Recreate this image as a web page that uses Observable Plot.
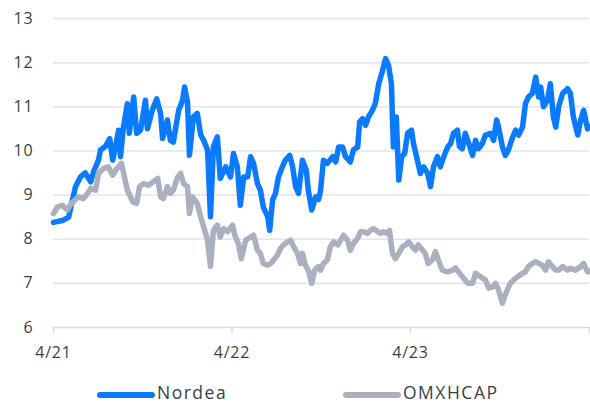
<!DOCTYPE html>
<html><head><meta charset="utf-8">
<script src="https://cdn.jsdelivr.net/npm/d3@7"></script>
<script src="https://cdn.jsdelivr.net/npm/@observablehq/plot@0.6"></script>
<style>
body{margin:0;background:#fff;font-family:"Open Sans",sans-serif;}
#wrap{position:relative;width:590px;height:404px;overflow:hidden;}
#chart{position:absolute;left:0;top:0;}
#chart svg text{letter-spacing:0.8px;}
.lt{position:absolute;top:383px;height:18px;line-height:18px;font-size:17.5px;letter-spacing:1.5px;color:#3b3f47;white-space:nowrap;}
.sw{position:absolute;top:392px;width:58px;height:5.5px;border-radius:3px;}
</style></head><body>
<div id="wrap"><div id="chart"></div>
<span class="sw" style="left:97px;background:#0a7bff"></span><span class="lt" style="left:157px">Nordea</span>
<span class="sw" style="left:343px;background:#aab0bf"></span><span class="lt" style="left:403px">OMXHCAP</span>
</div>
<script>
const seriesNames = ["Nordea", "OMXHCAP"];
const seriesColors = ["#0a7bff", "#aab0bf"];
const yTicks = [6, 7, 8, 9, 10, 11, 12, 13];
const xTickDates = ["2021-04-01", "2022-04-01", "2023-04-01", "2024-04-01"];
const xTickLabels = ["4/21", "4/22", "4/23", ""];

const nordeaDates = ["2021-04-01","2021-04-21","2021-05-02","2021-05-10","2021-05-16","2021-05-26","2021-06-05","2021-06-16","2021-06-22","2021-07-02","2021-07-06","2021-07-16","2021-07-25","2021-07-31","2021-08-06","2021-08-12","2021-08-16","2021-08-22","2021-08-30","2021-09-03","2021-09-12","2021-09-18","2021-09-26","2021-10-06","2021-10-10","2021-10-20","2021-10-29","2021-11-06","2021-11-10","2021-11-20","2021-11-26","2021-12-02","2021-12-13","2021-12-21","2021-12-25","2021-12-31","2022-01-04","2022-01-12","2022-01-20","2022-01-27","2022-02-02","2022-02-10","2022-02-16","2022-02-22","2022-03-02","2022-03-08","2022-03-19","2022-03-29","2022-04-04","2022-04-12","2022-04-18","2022-04-25","2022-05-03","2022-05-09","2022-05-15","2022-05-23","2022-05-29","2022-06-04","2022-06-13","2022-06-17","2022-06-23","2022-06-29","2022-07-05","2022-07-13","2022-07-19","2022-07-28","2022-08-03","2022-08-09","2022-08-15","2022-08-23","2022-08-31","2022-09-04","2022-09-11","2022-09-19","2022-09-25","2022-09-29","2022-10-05","2022-10-13","2022-10-24","2022-10-30","2022-11-05","2022-11-13","2022-11-19","2022-11-29","2022-12-05","2022-12-14","2022-12-18","2022-12-24","2022-12-30","2023-01-05","2023-01-13","2023-01-19","2023-01-26","2023-02-03","2023-02-09","2023-02-15","2023-02-21","2023-02-23","2023-02-25","2023-03-03","2023-03-08","2023-03-14","2023-03-20","2023-03-26","2023-04-03","2023-04-07","2023-04-15","2023-04-21","2023-04-28","2023-05-06","2023-05-12","2023-05-18","2023-05-26","2023-06-01","2023-06-08","2023-06-16","2023-06-22","2023-06-28","2023-07-06","2023-07-10","2023-07-16","2023-07-22","2023-07-29","2023-08-06","2023-08-12","2023-08-18","2023-08-26","2023-09-01","2023-09-12","2023-09-18","2023-09-24","2023-09-28","2023-10-06","2023-10-12","2023-10-18","2023-10-27","2023-11-02","2023-11-08","2023-11-16","2023-11-22","2023-11-28","2023-12-06","2023-12-13","2023-12-19","2023-12-23","2023-12-29","2024-01-06","2024-01-12","2024-01-18","2024-01-23","2024-01-29","2024-02-06","2024-02-16","2024-02-22","2024-02-28","2024-03-08","2024-03-14","2024-03-20","2024-03-28","2024-04-01"];
const nordeaValues = [8.38,8.43,8.5,8.9,9.19,9.41,9.5,9.3,9.53,9.79,10.02,10.1,10.28,9.79,10.1,10.47,9.87,10.54,11.07,10.4,11.22,10.4,10.47,11.15,10.5,10.92,11.18,10.85,10.28,10.7,10.24,10.2,10.92,11.15,11.45,11.1,9.9,10.77,10.85,10.36,10.24,10.02,8.51,10.1,10.32,9.38,9.64,9.41,9.94,9.64,8.77,9.41,9.41,9.87,9.72,9.26,9.11,8.73,8.51,8.2,8.89,9.04,9.41,9.64,9.79,9.9,9.64,9.19,9.04,9.79,9.56,9.11,8.66,8.96,8.9,9.1,9.79,9.72,9.87,9.75,10.09,10.09,9.87,9.75,10.02,10.09,10.66,10.73,10.58,10.77,10.92,11.07,11.52,11.83,12.09,11.94,11.52,10.77,10.09,10.77,9.34,9.87,9.94,10.4,10.47,10.17,9.79,9.49,9.64,9.49,9.19,9.64,9.87,9.64,9.87,10.09,10.17,10.4,10.47,10.1,10.05,10.4,10.17,9.9,10.24,10.05,10.17,10.36,10.4,10.24,10.7,10.54,10.09,9.9,10.02,10.32,10.47,10.36,10.54,11.07,11.22,11.3,11.67,11.22,11.45,11.0,11.15,11.52,10.77,10.54,11.0,11.3,11.41,11.3,10.77,10.36,10.7,10.92,10.5,10.55];

const omxDates = ["2021-04-01","2021-04-09","2021-04-19","2021-04-29","2021-05-05","2021-05-11","2021-05-22","2021-06-01","2021-06-10","2021-06-16","2021-06-26","2021-07-02","2021-07-12","2021-07-22","2021-07-31","2021-08-06","2021-08-12","2021-08-18","2021-08-24","2021-08-30","2021-09-10","2021-09-18","2021-09-24","2021-10-02","2021-10-12","2021-10-22","2021-10-31","2021-11-06","2021-11-12","2021-11-20","2021-11-26","2021-12-02","2021-12-11","2021-12-17","2021-12-23","2021-12-31","2022-01-04","2022-01-10","2022-01-20","2022-01-27","2022-02-02","2022-02-10","2022-02-16","2022-02-22","2022-03-02","2022-03-08","2022-03-15","2022-03-23","2022-04-02","2022-04-08","2022-04-14","2022-04-20","2022-04-29","2022-05-09","2022-05-15","2022-05-23","2022-05-29","2022-06-04","2022-06-13","2022-06-19","2022-06-25","2022-07-03","2022-07-09","2022-07-15","2022-07-24","2022-07-30","2022-08-05","2022-08-13","2022-08-19","2022-08-23","2022-08-29","2022-09-04","2022-09-11","2022-09-17","2022-09-25","2022-09-29","2022-10-05","2022-10-13","2022-10-19","2022-10-26","2022-11-03","2022-11-09","2022-11-15","2022-11-23","2022-11-29","2022-12-05","2022-12-14","2022-12-20","2022-12-26","2023-01-03","2023-01-09","2023-01-15","2023-01-24","2023-01-30","2023-02-05","2023-02-13","2023-02-17","2023-02-23","2023-03-01","2023-03-08","2023-03-16","2023-03-22","2023-03-28","2023-04-05","2023-04-11","2023-04-17","2023-04-26","2023-05-01","2023-05-07","2023-05-16","2023-05-22","2023-05-28","2023-06-05","2023-06-16","2023-06-26","2023-07-02","2023-07-08","2023-07-16","2023-07-27","2023-08-06","2023-08-12","2023-08-22","2023-09-01","2023-09-08","2023-09-16","2023-09-22","2023-09-28","2023-10-06","2023-10-10","2023-10-16","2023-10-22","2023-10-29","2023-11-06","2023-11-16","2023-11-22","2023-11-28","2023-12-06","2023-12-13","2023-12-19","2023-12-27","2024-01-02","2024-01-08","2024-01-16","2024-01-23","2024-01-29","2024-02-06","2024-02-16","2024-02-22","2024-03-03","2024-03-14","2024-03-20","2024-03-28","2024-04-01"];
const omxValues = [8.58,8.73,8.77,8.66,8.77,8.85,8.96,8.92,9.04,9.15,9.11,9.49,9.6,9.64,9.45,9.56,9.64,9.72,9.41,9.11,8.85,8.81,9.19,9.26,9.22,9.3,9.38,8.96,8.92,9.19,9.04,9.11,9.41,9.49,9.26,9.19,8.58,8.96,8.81,8.51,8.28,7.98,7.38,8.2,8.32,8.05,8.24,8.17,8.32,8.05,7.9,7.56,7.98,8.05,8.09,7.75,7.68,7.45,7.41,7.45,7.53,7.64,7.79,7.87,7.94,7.98,7.83,7.68,7.45,7.68,7.41,7.3,7.0,7.3,7.38,7.3,7.45,7.53,7.83,7.94,7.87,7.98,8.09,7.98,7.75,7.9,8.02,8.17,8.17,8.13,8.2,8.24,8.17,8.13,8.17,8.13,8.2,7.68,7.56,7.68,7.83,7.87,7.94,7.83,7.75,7.87,7.75,7.68,7.45,7.53,7.72,7.53,7.3,7.26,7.3,7.35,7.26,7.15,7.0,7.0,7.23,7.15,7.08,6.89,6.92,7.0,6.85,6.55,6.7,6.85,7.0,7.08,7.15,7.23,7.26,7.38,7.45,7.49,7.45,7.41,7.3,7.49,7.38,7.3,7.3,7.38,7.3,7.34,7.3,7.38,7.45,7.26,7.28];

const parse = d3.utcParse("%Y-%m-%d");
const nordea = nordeaDates.map((d, i) => ({date: parse(d), value: nordeaValues[i]}));
const omx = omxDates.map((d, i) => ({date: parse(d), value: omxValues[i]}));
const xTicks = xTickDates.map(parse);
const fmt = d => xTickLabels[xTicks.findIndex(t => +t === +d)];

const chart = Plot.plot({
  width: 590, height: 372,
  marginLeft: 53, marginRight: 1, marginTop: 18, marginBottom: 45,
  style: {fontFamily: "'Open Sans', sans-serif", fontSize: "16px", color: "#3b3f47", background: "transparent", overflow: "visible"},
  x: {type: "utc", domain: [xTicks[0], xTicks[3]]},
  y: {domain: [6, 13]},
  marks: [
    Plot.ruleY(yTicks.slice(1), {stroke: "#e3e4e9", strokeWidth: 1.5}),
    Plot.ruleY([6], {stroke: "#d8d9df", strokeWidth: 1.5}),
    Plot.axisY({ticks: yTicks, tickSize: 0, tickPadding: 20, tickFormat: d => String(d), label: null, fontSize: 16, fill: "#3b3f47"}),
    Plot.axisX({ticks: xTicks, tickSize: 6, tickPadding: 13, tickFormat: fmt, label: null, stroke: "#d8d9df", strokeWidth: 1.5, fontSize: 16, fill: "#3b3f47"}),
    Plot.lineY(nordea, {x: "date", y: "value", stroke: seriesColors[0], strokeWidth: 5.5, strokeLinejoin: "round", strokeLinecap: "round"}),
    Plot.lineY(omx, {x: "date", y: "value", stroke: seriesColors[1], strokeWidth: 5.5, strokeLinejoin: "round", strokeLinecap: "round"})
  ]
});
document.getElementById("chart").appendChild(chart);
</script>
</body></html>
